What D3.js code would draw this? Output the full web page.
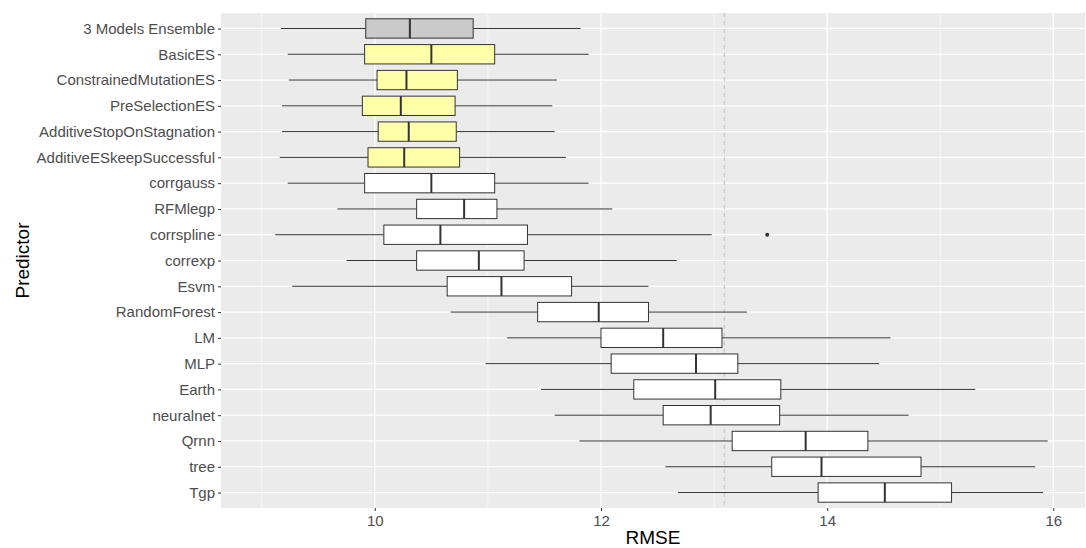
<!DOCTYPE html>
<html><head><meta charset="utf-8">
<script src="https://cdn.jsdelivr.net/npm/d3@7"></script>
<style>body{margin:0;background:#fff;} text{font-family:"Liberation Sans",Arial,sans-serif;}</style>
</head><body><svg id="c" width="1086" height="548"></svg>
<script>
const categories = ["3 Models Ensemble","BasicES","ConstrainedMutationES","PreSelectionES","AdditiveStopOnStagnation","AdditiveESkeepSuccessful","corrgauss","RFMlegp","corrspline","correxp","Esvm","RandomForest","LM","MLP","Earth","neuralnet","Qrnn","tree","Tgp"];
const whiskerLow = [9.17,9.23,9.24,9.18,9.18,9.16,9.23,9.67,9.12,9.75,9.27,10.67,11.17,10.98,11.47,11.59,11.81,12.57,12.68];
const q1 =         [9.92,9.91,10.02,9.89,10.03,9.94,9.91,10.37,10.08,10.37,10.64,11.44,12.00,12.09,12.29,12.55,13.16,13.51,13.92];
const median =     [10.31,10.50,10.28,10.23,10.30,10.26,10.50,10.79,10.58,10.92,11.12,11.98,12.55,12.84,13.01,12.97,13.81,13.95,14.51];
const q3 =         [10.87,11.06,10.73,10.71,10.72,10.75,11.06,11.08,11.35,11.32,11.74,12.42,13.07,13.21,13.59,13.58,14.36,14.83,15.10];
const whiskerHigh =[11.82,11.89,11.61,11.57,11.59,11.69,11.89,12.10,12.98,12.67,12.42,13.29,14.56,14.46,15.31,14.72,15.95,15.84,15.91];
const groups =     ["ensemble","es","es","es","es","es","base","base","base","base","base","base","base","base","base","base","base","base","base"];
const outliers = [{cat:"corrspline", value:13.47}];
const refLine = 13.09;
const xTicks = [10,12,14,16];
const xMinor = [9,11,13,15];
const fillColors = {ensemble:"#CACACA", es:"#FFFFAA", base:"#FFFFFF"};

const svg = d3.select("#c");
const L=221, R=1085, T=13, B=508;
const x = d3.scaleLinear().domain([8.64,16.28]).range([L,R]);
const y = d3.scalePoint().domain(categories).range([T,B]).padding(0.6);
const bw = y.step()*0.75;
const cy = c => y(c);

svg.append("rect").attr("x",L).attr("y",T).attr("width",R-L).attr("height",B-T).attr("fill","#EBEBEB");
svg.selectAll(".mn").data(xMinor).enter().append("line")
  .attr("x1",d=>x(d)).attr("x2",d=>x(d)).attr("y1",T).attr("y2",B)
  .attr("stroke","#fff").attr("stroke-width",0.6);
svg.selectAll(".mj").data(xTicks).enter().append("line")
  .attr("x1",d=>x(d)).attr("x2",d=>x(d)).attr("y1",T).attr("y2",B)
  .attr("stroke","#fff").attr("stroke-width",1.2);
svg.selectAll(".hy").data(categories).enter().append("line")
  .attr("x1",L).attr("x2",R).attr("y1",d=>cy(d)).attr("y2",d=>cy(d))
  .attr("stroke","#fff").attr("stroke-width",1.2);

svg.append("line").attr("x1",x(refLine)).attr("x2",x(refLine)).attr("y1",T).attr("y2",B)
  .attr("stroke","#BDBDBD").attr("stroke-width",1).attr("stroke-dasharray","4,4");

const rows = categories.map((c,i)=>({c, lo:whiskerLow[i], q1:q1[i], md:median[i], q3:q3[i], hi:whiskerHigh[i], g:groups[i]}));
const g = svg.append("g");
rows.forEach(r=>{
  const yc = cy(r.c);
  g.append("line").attr("x1",x(r.lo)).attr("x2",x(r.q1)).attr("y1",yc).attr("y2",yc).attr("stroke","#333").attr("stroke-width",1);
  g.append("line").attr("x1",x(r.q3)).attr("x2",x(r.hi)).attr("y1",yc).attr("y2",yc).attr("stroke","#333").attr("stroke-width",1);
  g.append("rect").attr("x",x(r.q1)).attr("y",yc-bw/2).attr("width",x(r.q3)-x(r.q1)).attr("height",bw)
    .attr("fill",fillColors[r.g]).attr("stroke","#333").attr("stroke-width",1);
  g.append("line").attr("x1",x(r.md)).attr("x2",x(r.md)).attr("y1",yc-bw/2).attr("y2",yc+bw/2).attr("stroke","#333").attr("stroke-width",2);
});
svg.selectAll(".out").data(outliers).enter().append("circle")
  .attr("cx",d=>x(d.value)).attr("cy",d=>cy(d.cat)).attr("r",2).attr("fill","#333");

const xa = svg.append("g").attr("transform",`translate(0,${B})`)
  .call(d3.axisBottom(x).tickValues(xTicks).tickSize(3).tickPadding(4).tickFormat(d3.format("d")));
xa.select(".domain").remove();
xa.selectAll("line").attr("stroke","#333");
xa.selectAll("text").attr("fill","#4D4D4D").style("font-size","15px");
const ya = svg.append("g").attr("transform",`translate(${L},0)`)
  .call(d3.axisLeft(y).tickSize(3).tickPadding(3));
ya.select(".domain").remove();
ya.selectAll("line").attr("stroke","#333");
ya.selectAll("text").attr("fill","#4D4D4D").style("font-size","15px");

svg.append("text").attr("x",(L+R)/2).attr("y",544).attr("text-anchor","middle").style("font-size","19px").attr("fill","#000").text("RMSE");
svg.append("text").attr("transform",`translate(29,${(T+B)/2}) rotate(-90)`).attr("text-anchor","middle").style("font-size","19px").attr("fill","#000").text("Predictor");
</script></body></html>
